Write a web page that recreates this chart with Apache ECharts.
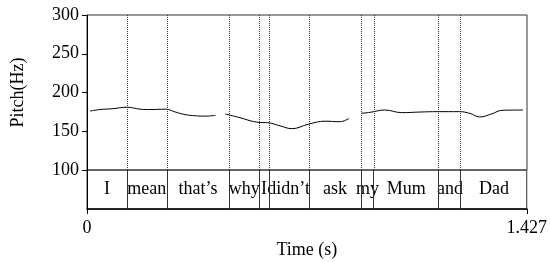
<!DOCTYPE html>
<html>
<head>
<meta charset="utf-8">
<script src="https://cdn.jsdelivr.net/npm/echarts@6/dist/echarts.min.js"></script>
<style>
html, body { margin: 0; padding: 0; background: #fff; }
#main { width: 550px; height: 262px; }
</style>
</head>
<body>
<div id="main"></div>
<script>
var myChart = echarts.init(document.getElementById('main'));

var duration = 1.427;
var yTicks = [100, 150, 200, 250, 300];
// word tier
var words = ['I', 'mean', 'that\u2019s', 'why', 'I', 'didn\u2019t', 'ask', 'my', 'Mum', 'and', 'Dad'];
var boundaries = [0.1297, 0.2585, 0.4615, 0.5588, 0.5893, 0.7190, 0.8903, 0.9308, 1.1416, 1.2139];
// pitch contour (null = unvoiced gap)
var pitchTime = [0.010, 0.042, 0.081, 0.130, 0.172, 0.204, 0.256, 0.285, 0.318, 0.350, 0.383, 0.417,
                 0.430,
                 0.448, 0.496, 0.555, 0.587, 0.626, 0.665, 0.717, 0.772, 0.820, 0.850,
                 0.870,
                 0.889, 0.918, 0.966, 1.021, 1.080, 1.135, 1.209, 1.242, 1.274, 1.313, 1.346, 1.414];
var pitchHz = [176, 178, 179, 181, 178.5, 178, 178.5, 175, 171.5, 170, 169.5, 170.5,
               null,
               172.3, 167.5, 161.5, 161, 157, 153.3, 159, 163, 162.3, 166.5,
               null,
               173.2, 174.4, 177.4, 174, 174.8, 175.3, 175.3, 173, 168.4, 172.5, 177, 177.4];

var edges = [0].concat(boundaries, [duration]);
var tierData = words.map(function (w, i) {
    return [edges[i], edges[i + 1], w];
});
var pitchData = pitchTime.map(function (t, i) {
    return [t, pitchHz[i]];
});
var lineMarks = boundaries.map(function (b) { return { xAxis: b }; });

var font = 'Liberation Serif';

option = {
    animation: false,
    grid: [
        { left: 87, right: 23, top: 15, height: 155, show: true, borderColor: '#333', borderWidth: 1 },
        { left: 87, right: 23, top: 170, height: 39, show: true, borderColor: '#333', borderWidth: 1 }
    ],
    xAxis: [
        {
            gridIndex: 0, type: 'value', min: 0, max: duration,
            axisLine: { show: false }, axisTick: { show: false },
            axisLabel: { show: false }, splitLine: { show: false }
        },
        {
            gridIndex: 1, type: 'value', min: 0, max: duration,
            name: 'Time (s)', nameLocation: 'middle', nameGap: 32,
            nameTextStyle: { fontFamily: font, fontSize: 18, color: '#000' },
            axisLine: { show: true, lineStyle: { color: '#000', width: 1.5 } },
            axisTick: { show: true, length: 5, customValues: [0, duration], lineStyle: { color: '#000' } },
            axisLabel: {
                customValues: [0, duration], margin: 10,
                fontFamily: font, fontSize: 18, color: '#000',
                formatter: function (v) { return v === 0 ? '0' : String(v); }
            },
            splitLine: { show: false }
        }
    ],
    yAxis: [
        {
            gridIndex: 0, type: 'value', min: 100, max: 300, interval: 50,
            name: 'Pitch(Hz)', nameLocation: 'middle', nameGap: 60,
            nameTextStyle: { fontFamily: font, fontSize: 18, color: '#000' },
            axisLine: { show: true, lineStyle: { color: '#000', width: 1 } },
            axisTick: { show: true, length: 5, lineStyle: { color: '#000' } },
            axisLabel: { margin: 8, fontFamily: font, fontSize: 18, color: '#000',
                customValues: yTicks },
            splitLine: { show: false }
        },
        {
            gridIndex: 1, type: 'value', min: 0, max: 1,
            axisLine: { show: true, lineStyle: { color: '#000', width: 1 } },
            axisTick: { show: false }, axisLabel: { show: false }, splitLine: { show: false }
        }
    ],
    series: [
        {
            type: 'line', xAxisIndex: 0, yAxisIndex: 0,
            data: pitchData, smooth: 0.4, showSymbol: false, connectNulls: false,
            lineStyle: { color: '#000', width: 1 },
            markLine: {
                silent: true, symbol: ['none', 'none'], label: { show: false },
                lineStyle: { color: '#333', type: 'dotted', width: 1 },
                data: lineMarks
            }
        },
        {
            type: 'custom', xAxisIndex: 1, yAxisIndex: 1,
            data: tierData,
            renderItem: function (params, api) {
                var p = api.coord([(api.value(0) + api.value(1)) / 2, 0.5]);
                return {
                    type: 'text',
                    style: {
                        x: p[0], y: p[1], text: tierData[params.dataIndex][2],
                        fontFamily: font, fontSize: 18, fill: '#000',
                        align: 'center', verticalAlign: 'middle'
                    }
                };
            },
            markLine: {
                silent: true, symbol: ['none', 'none'], label: { show: false },
                lineStyle: { color: '#333', type: 'solid', width: 1 },
                data: lineMarks
            }
        }
    ]
};

myChart.setOption(option);
</script>
</body>
</html>
